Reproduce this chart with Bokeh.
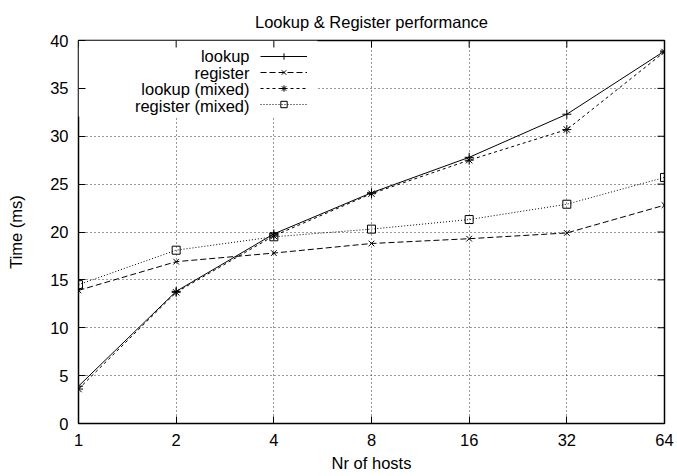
from bokeh.plotting import figure
from bokeh.models import (Range1d, FixedTicker, Whisker, ColumnDataSource, Legend,
                          LegendItem, Label, BoxAnnotation, NumeralTickFormatter)
from bokeh.embed import file_html
from bokeh.resources import INLINE

# ---- data ----
hosts = [1, 2, 4, 8, 16, 32, 64]
lookup = [3.9, 13.8, 19.8, 24.1, 27.8, 32.3, 38.9]
register = [13.9, 16.9, 17.8, 18.8, 19.3, 19.9, 22.8]
lookup_mixed = [3.6, 13.7, 19.6, 24.0, 27.5, 30.7, 38.8]
register_mixed = [14.5, 18.1, 19.5, 20.3, 21.3, 22.9, 25.7]
y_ticks = [0, 5, 10, 15, 20, 25, 30, 35, 40]
series_names = ["lookup", "register", "lookup (mixed)", "register (mixed)"]
title_text = "Lookup & Register performance"
x_label = "Nr of hosts"
y_label = "Time (ms)"

FONT = "Liberation Sans"
FS = "16.5px"

W, H = 677, 476
BL, BR, BT, BB = 78, 13, 40, 53
FW, FH = W - BL - BR, H - BT - BB
TICK = 7

p = figure(width=W, height=H, x_axis_type="log",
           x_range=Range1d(1, 64), y_range=Range1d(0, 40),
           output_backend="svg", toolbar_location=None, title=title_text,
           min_border_left=BL, min_border_right=BR,
           min_border_top=BT, min_border_bottom=BB)
p.background_fill_color = "white"
p.border_fill_color = "white"
p.outline_line_color = "black"
p.outline_line_width = 1.5

p.title.align = "center"
p.title.standoff = 19
p.title.text_font = FONT
p.title.text_font_size = FS
p.title.text_font_style = "normal"
p.title.text_color = "black"

for ax in (p.xaxis[0], p.yaxis[0]):
    ax.axis_line_color = None
    ax.major_tick_in = TICK
    ax.major_tick_out = 0
    ax.major_tick_line_color = "black"
    ax.major_tick_line_width = 1
    ax.minor_tick_line_color = None
    ax.major_label_text_font = FONT
    ax.major_label_text_font_size = FS
    ax.major_label_text_color = "black"
    ax.axis_label_text_font = FONT
    ax.axis_label_text_font_size = FS
    ax.axis_label_text_font_style = "normal"
    ax.axis_label_text_color = "black"

p.xaxis.ticker = FixedTicker(ticks=hosts)
p.xaxis.formatter = NumeralTickFormatter(format="0")
p.yaxis.ticker = FixedTicker(ticks=y_ticks)
p.xaxis.axis_label = x_label
p.yaxis.axis_label = y_label
p.xaxis.major_label_standoff = 10
p.xaxis.axis_label_standoff = 5
p.yaxis.major_label_standoff = 10
p.yaxis.axis_label_standoff = 22

for g in (p.xgrid[0], p.ygrid[0]):
    g.grid_line_color = "#333333"
    g.grid_line_dash = "1 3"
    g.grid_line_width = 1

# white key area (hides the grid under the key)
p.add_layout(BoxAnnotation(left=None, top=None, right=239, bottom=307,
                           right_units="screen", bottom_units="screen",
                           fill_color="white", fill_alpha=1.0,
                           line_color=None, level="underlay"))

# mirrored inward ticks on the top and right edges
ymax = p.y_range.end
xmax = p.x_range.end
top_src = ColumnDataSource(dict(base=hosts,
                                lo=[ymax - TICK * 40 / FH] * len(hosts),
                                hi=[ymax] * len(hosts)))
right_src = ColumnDataSource(dict(base=y_ticks,
                                  lo=[xmax / 2 ** (TICK * 6 / FW)] * len(y_ticks),
                                  hi=[xmax] * len(y_ticks)))
p.add_layout(Whisker(source=top_src, base="base", lower="lo", upper="hi",
                     dimension="height", line_color="black", line_width=1,
                     upper_head=None, lower_head=None, level="overlay"))
p.add_layout(Whisker(source=right_src, base="base", lower="lo", upper="hi",
                     dimension="width", line_color="black", line_width=1,
                     upper_head=None, lower_head=None, level="overlay"))

styles = [
    (lookup, "solid", "cross", 9),
    (register, "6 3", "x", 8),
    (lookup_mixed, "3 3", "asterisk", 9),
    (register_mixed, "1 2", "square", 8),
]
items = []
for name, (vals, dash, marker, size) in zip(series_names, styles):
    lr = p.line(hosts, vals, line_color="black", line_width=1, line_dash=dash)
    sr = p.scatter(hosts, vals, marker=marker, size=size, line_color="black",
                   fill_color=None, line_width=1)
    items.append(LegendItem(label=" ", renderers=[lr, sr]))

leg = Legend(items=items, location=(182, 311.5), glyph_width=47, glyph_height=16,
             spacing=0, padding=0, margin=0, label_standoff=0, label_width=0,
             label_height=0, label_text_font_size="8px",
             border_line_color=None, background_fill_color="white",
             background_fill_alpha=1.0)
p.add_layout(leg, "center")

row_y = [367.5, 351, 334.5, 318]
for name, yy in zip(series_names, row_y):
    p.add_layout(Label(x=171, y=yy, x_units="screen", y_units="screen",
                       text=name, text_align="right", text_baseline="middle",
                       text_font=FONT, text_font_size=FS, text_color="black"))

open("out.html", "w").write(file_html(p, INLINE))
